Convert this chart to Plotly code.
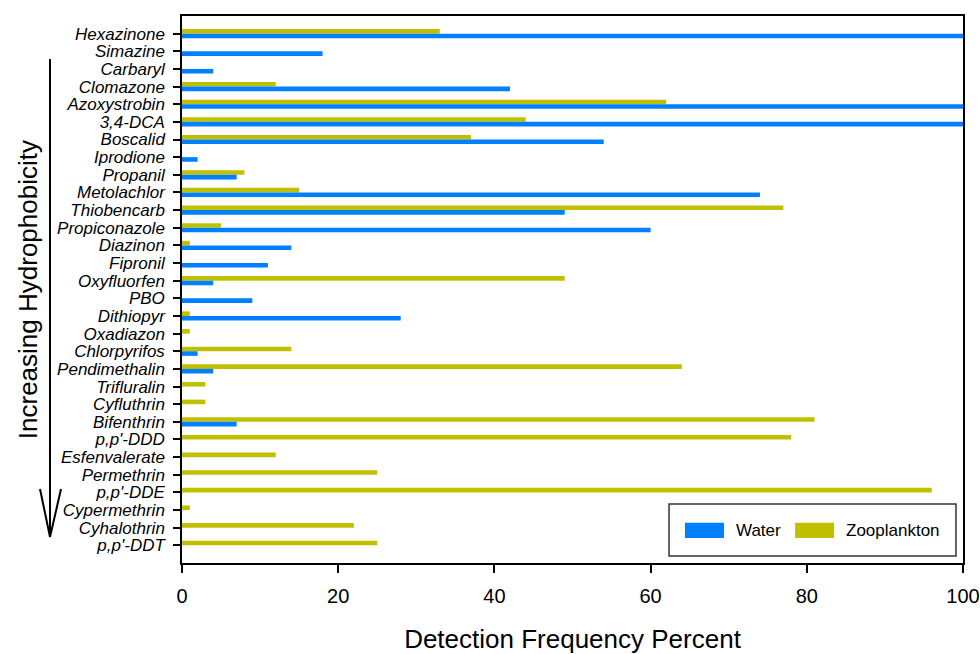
import plotly.graph_objects as go

compounds = ["Hexazinone", "Simazine", "Carbaryl", "Clomazone", "Azoxystrobin", "3,4-DCA",
             "Boscalid", "Iprodione", "Propanil", "Metolachlor", "Thiobencarb", "Propiconazole",
             "Diazinon", "Fipronil", "Oxyfluorfen", "PBO", "Dithiopyr", "Oxadiazon",
             "Chlorpyrifos", "Pendimethalin", "Trifluralin", "Cyfluthrin", "Bifenthrin",
             "p,p'-DDD", "Esfenvalerate", "Permethrin", "p,p'-DDE", "Cypermethrin",
             "Cyhalothrin", "p,p'-DDT"]

water = [100, 18, 4, 42, 100, 100, 54, 2, 7, 74, 49, 60, 14, 11, 4, 9, 28, None,
         2, 4, None, None, 7, None, None, None, None, None, None, None]

zooplankton = [33, None, None, 12, 62, 44, 37, None, 8, 15, 77, 5, 1, None, 49, None, 1, 1,
               14, 64, 3, 3, 81, 78, 12, 25, 96, 1, 22, 25]

x_ticks = [0, 20, 40, 60, 80, 100]

BLUE = "#0080FF"
OLIVE = "#C0C000"
FONT = "Liberation Sans, Arial, sans-serif"

fig = go.Figure()
fig.add_trace(go.Bar(y=compounds, x=zooplankton, orientation="h", name="Zooplankton",
                     marker=dict(color=OLIVE, line=dict(width=0)), width=0.26, offset=-0.26))
fig.add_trace(go.Bar(y=compounds, x=water, orientation="h", name="Water",
                     marker=dict(color=BLUE, line=dict(width=0)), width=0.26, offset=0.0))

fig.update_layout(
    width=980, height=654,
    margin=dict(l=182, r=17, t=16, b=91),
    paper_bgcolor="white", plot_bgcolor="white",
    showlegend=False,
    barmode="overlay",
    font=dict(family=FONT, color="black"),
    xaxis=dict(range=[0, 100], tickmode="array", tickvals=x_ticks, ticks="outside", ticklen=8,
               tickwidth=1.5, tickcolor="black", showline=True, linecolor="black", linewidth=1.5,
               mirror=True, showgrid=False, zeroline=False, automargin=False,
               tickfont=dict(size=20, family=FONT), ticklabelstandoff=6,
               title=dict(text="Detection Frequency Percent", font=dict(size=26, family=FONT),
                          standoff=30)),
    yaxis=dict(categoryorder="array", categoryarray=compounds, range=[30.0, -1.0],
               tickmode="array", tickvals=compounds, ticktext=compounds,
               ticks="outside", ticklen=7, tickwidth=1.5, tickcolor="black",
               showline=True, linecolor="black", linewidth=1.5, mirror=True, showgrid=False,
               zeroline=False, automargin=False,
               tickfont=dict(size=17, family=FONT, style="italic"),
               ticklabelstandoff=5),
)

# Y-axis side label and arrow
fig.add_annotation(text="Increasing Hydrophobicity", xref="paper", yref="paper",
                   x=-0.197, y=0.499, textangle=-90, showarrow=False,
                   font=dict(size=26, family=FONT, color="black"), xanchor="center", yanchor="middle")
line_kw = dict(type="line", xref="paper", yref="paper", line=dict(color="black", width=2))
fig.add_shape(x0=-0.169, x1=-0.169, y0=0.9214, y1=0.0475, **line_kw)
fig.add_shape(x0=-0.1818, x1=-0.169, y0=0.1353, y1=0.0475, **line_kw)
fig.add_shape(x0=-0.1549, x1=-0.169, y0=0.1353, y1=0.0475, **line_kw)

# Legend (drawn manually to reproduce wide swatches)
fig.add_shape(type="rect", xref="paper", yref="paper", x0=0.6236, x1=0.991, y0=0.0128, y1=0.1079,
              line=dict(color="#333333", width=1.5), fillcolor="white")
fig.add_shape(type="rect", xref="paper", yref="paper", x0=0.644, x1=0.694, y0=0.0457, y1=0.0737,
              line=dict(width=0), fillcolor=BLUE)
fig.add_shape(type="rect", xref="paper", yref="paper", x0=0.785, x1=0.835, y0=0.0457, y1=0.0737,
              line=dict(width=0), fillcolor=OLIVE)
fig.add_annotation(text="Water", xref="paper", yref="paper", x=0.7068, y=0.0603, showarrow=False,
                   xanchor="left", yanchor="middle", font=dict(size=17, family=FONT, color="black"))
fig.add_annotation(text="Zooplankton", xref="paper", yref="paper", x=0.8476, y=0.0603,
                   showarrow=False, xanchor="left", yanchor="middle",
                   font=dict(size=17, family=FONT, color="black"))

fig.write_html("out.html")
